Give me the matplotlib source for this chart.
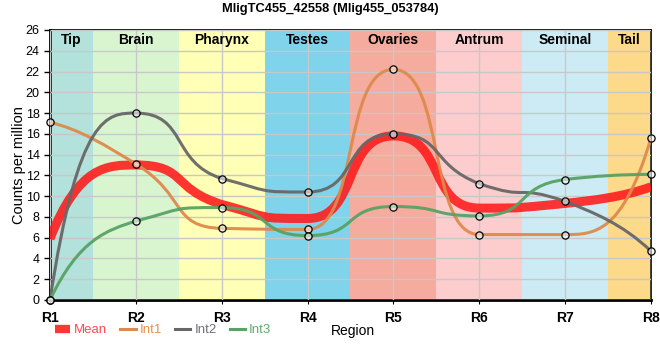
import numpy as np
import matplotlib
matplotlib.use("Agg")
import matplotlib.pyplot as plt
from matplotlib.path import Path
from matplotlib.patches import PathPatch
from matplotlib.lines import Line2D

plt.rcParams['font.family'] = ['Liberation Sans', 'DejaVu Sans']

regions = ["R1", "R2", "R3", "R4", "R5", "R6", "R7", "R8"]
tissues = ["Tip", "Brain", "Pharynx", "Testes", "Ovaries", "Antrum", "Seminal", "Tail"]
tissue_colors = ["#b3e2dc", "#d9f5d0", "#ffffb5", "#7fd3ea",
                 "#f5ab9d", "#fdcdcd", "#cdebf5", "#fdd98a"]

mean = [5.9, 13.0, 9.2, 7.85, 15.8, 8.85, 9.3, 10.9]
int1 = [17.1, 13.1, 6.9, 6.8, 22.2, 6.3, 6.3, 15.6]
int2 = [0.0, 18.0, 11.7, 10.4, 16.0, 11.2, 9.5, 4.7]
int3 = [0.0, 7.6, 8.9, 6.2, 9.0, 8.1, 11.6, 12.1]

c_mean, c_int1, c_int2, c_int3 = "#ff1a1a", "#de8a4c", "#676767", "#58a264"


def tangents(ys):
    ys = np.asarray(ys, float)
    s = np.diff(ys)
    m = np.zeros_like(ys)
    for i in range(1, len(ys) - 1):
        p = (s[i - 1] + s[i]) / 2
        m[i] = (np.sign(s[i - 1]) + np.sign(s[i])) * min(abs(s[i - 1]), abs(s[i]), 0.5 * abs(p))
    for i, j, d in ((0, 1, s[0]), (-1, -2, s[-1])):
        e = 3 * d - 2 * m[j]
        m[i] = e if np.sign(e) == np.sign(d) else 0.0
    return m


def smooth_path(xs, ys, c_mid=0.6, c_end=1 / 3):
    # bezier segments, control points kept between the neighbouring values
    m = tangents(ys)
    n = len(xs) - 1
    verts = [(xs[0], ys[0])]
    codes = [Path.MOVETO]
    for i in range(n):
        x0, x1, y0, y1 = xs[i], xs[i + 1], ys[i], ys[i + 1]
        h = x1 - x0
        c = c_end if i in (0, n - 1) else c_mid
        lo, hi = min(y0, y1), max(y0, y1)
        p1 = np.clip(y0 + m[i] * c * h, lo, hi)
        p2 = np.clip(y1 - m[i + 1] * c * h, lo, hi)
        verts += [(x0 + c * h, p1), (x1 - c * h, p2), (x1, y1)]
        codes += [Path.CURVE4] * 3
    return Path(verts, codes)


fig = plt.figure(figsize=(6.6, 3.6), dpi=100)
ax = fig.add_axes([50 / 660, 1 - 300 / 360, 601 / 660, 270 / 360])
x = np.arange(len(regions))

for i, (name, col) in enumerate(zip(tissues, tissue_colors)):
    lo = max(i - 0.5, 0); hi = min(i + 0.5, len(regions) - 1)
    ax.axvspan(lo, hi, color=col, lw=0, zorder=0)
    ax.text((lo + hi) / 2, 25.0, name, ha="center", va="center",
            fontsize=10, fontweight="bold", zorder=5)

ax.grid(True, color="#c8c8c8", lw=1, zorder=1)
ax.set_axisbelow(False)

ax.add_patch(PathPatch(smooth_path(x, mean), fill=False, edgecolor=c_mean, lw=6.5,
                       alpha=0.88, zorder=3, capstyle="butt"))
series = [(int1, c_int1), (int2, c_int2), (int3, c_int3)]
for vals, col in series:
    ax.add_patch(PathPatch(smooth_path(x, vals), fill=False, edgecolor=col, lw=2.2,
                           alpha=0.95, zorder=4))
for vals, col in series:
    ax.plot(x, vals, "o", ms=5.2, mfc=(1, 1, 1, 0.55), mec="black", mew=0.9,
            ls="none", zorder=6, clip_on=False)

ax.set_xlim(0, len(regions) - 1)
ax.set_ylim(0, 26)
ax.set_xticks(x)
ax.set_xticklabels(regions, fontweight="bold", fontsize=10)
ax.set_yticks(np.arange(0, 27, 2))
ax.tick_params(axis="y", labelsize=9, length=4, width=1)
ax.tick_params(axis="x", length=3, pad=5)
for sp in ax.spines.values():
    sp.set_linewidth(1.2)
ax.spines["bottom"].set_linewidth(2)
ax.spines["left"].set_linewidth(2)
ax.set_ylabel("Counts per million", fontsize=10.5)
ax.yaxis.set_label_coords(-24 / 601, 0.5)

fig.text(330 / 660, 1 - 9 / 360, "MligTC455_42558 (Mlig455_053784)", ha="center", va="center",
         fontsize=9.3, fontweight="bold")
fig.text(353 / 660, 1 - 331 / 360, "Region", ha="center", va="center", fontsize=10)

handles = [Line2D([], [], color=c_mean, lw=6, alpha=0.88, solid_capstyle="butt"),
           Line2D([], [], color=c_int1, lw=2.2),
           Line2D([], [], color=c_int2, lw=2.2),
           Line2D([], [], color=c_int3, lw=2.2)]
leg = fig.legend(handles, ["Mean", "Int1", "Int2", "Int3"], loc="center left",
                 bbox_to_anchor=(55 / 660, 1 - 330 / 360), ncol=4, frameon=False,
                 fontsize=9.5, handlelength=1.15, handletextpad=0.3, columnspacing=1.0,
                 borderpad=0, borderaxespad=0)
for t, col in zip(leg.get_texts(), ["#ff4a4a", "#e8904f", "#707078", "#5fae6c"]):
    t.set_color(col)

fig.savefig("out.png", dpi=100)
